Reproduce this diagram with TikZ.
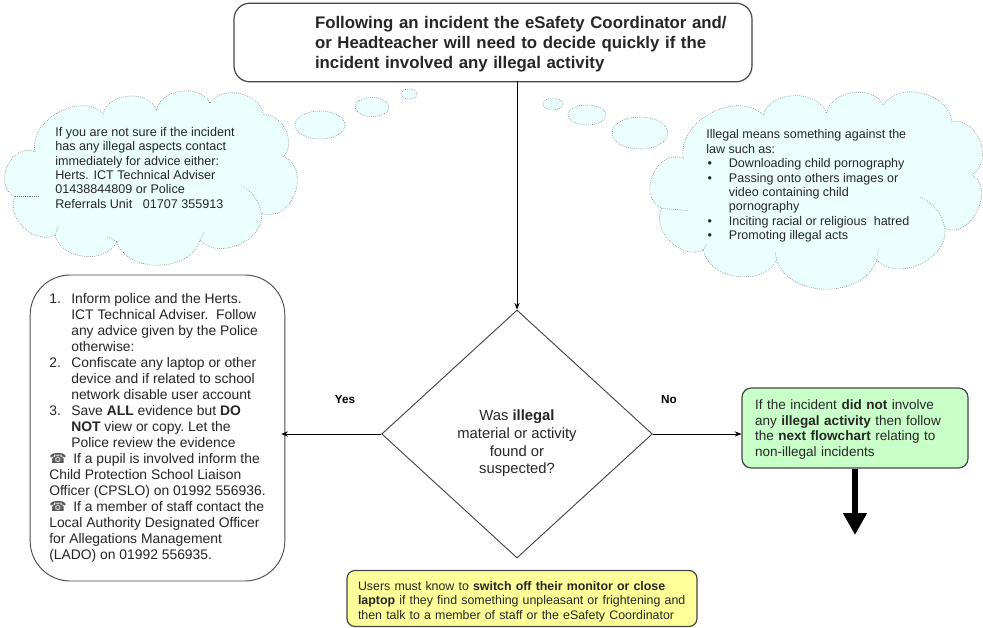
\documentclass[tikz,border=0pt]{standalone}
\usepackage{fontspec}
\setmainfont{Liberation Sans}
\newfontfamily\phonefont{DejaVu Sans}
\usetikzlibrary{shapes.geometric,arrows.meta}
\definecolor{cloudfill}{HTML}{EBFFFF}
\definecolor{greenfill}{HTML}{C9FFC9}
\definecolor{yellowfill}{HTML}{FFFF99}
\definecolor{boxline}{HTML}{454545}
\newcommand{\hangnum}[1]{\makebox[16.5pt][l]{#1}}
\newcommand{\phonemark}{{\phonefont\color{black!65}\char"260E}\hspace{5pt}}
\newcommand{\topindent}{\hspace*{46.5pt}}
\tikzset{
  flowbox/.style={draw=boxline, line width=0.9pt, align=left, inner sep=0pt, text=black!85},
  flowline/.style={draw=black, line width=0.7pt, -{Stealth[length=5pt,width=4pt]}},
  cloudline/.style={draw=black!55, densely dotted, line width=0.45pt},
  lobe/.style={bend left=72, looseness=1.05},
  biglobe/.style={bend left=88, looseness=1.35}
}
\begin{document}
\begin{tikzpicture}[x=0.75pt, y=-0.75pt]
      \useasboundingbox (0,0) rectangle (983,628);
      %
      % left cloud, coordinates read from 3x crop
      \begin{scope}[shift={(0,80)}, scale=1/3]
      \draw[cloudline, fill=cloudfill] (105,215) to[lobe] (310,100) to[lobe] (470,90)
        to[lobe] (630,70) to[lobe] (790,105) to[lobe] (850,230) to[biglobe] (785,400)
        to[lobe] (600,480) to[lobe] (350,485) to[lobe] (165,465) to[lobe] (45,350)
        to[biglobe] (105,215) -- cycle;
      \draw[cloudline] (785,400) to[bend right=25] (720,315);
      \draw[cloudline] (45,350) -- (120,350);
      \draw[cloudline] (165,465) -- (175,440);
      \draw[cloudline] (350,485) -- (322,470);
      \draw[cloudline] (600,480) -- (612,458);
      \end{scope}
      \draw[cloudline, fill=cloudfill] (320,125) ellipse (25 and 14);
      \draw[cloudline, fill=cloudfill] (372,107) ellipse (17 and 9.5);
      \draw[cloudline, fill=cloudfill] (409,94) ellipse (8 and 5);
      %
      % right cloud
      \begin{scope}[shift={(530,80)}, scale=1/3]
      \draw[cloudline, fill=cloudfill] (460,235) to[lobe] (700,105) to[lobe] (890,100)
        to[lobe] (1060,75) to[lobe] (1265,125) to[bend left=80, looseness=1.2] (1325,285)
        to[bend left=90, looseness=1.2] (1245,445)
        to[lobe] (1040,540) to[lobe] (740,540) to[lobe] (520,510) to[lobe] (395,385)
        to[biglobe] (460,235) -- cycle;
      \draw[cloudline] (1245,445) to[bend right=25] (1170,350);
      \draw[cloudline] (395,385) -- (475,392);
      \draw[cloudline] (520,510) -- (530,490);
      \draw[cloudline] (740,540) -- (735,515);
      \draw[cloudline] (1040,540) -- (1045,510);
      \end{scope}
      \draw[cloudline, fill=cloudfill] (640,133) ellipse (28 and 16);
      \draw[cloudline, fill=cloudfill] (587,115) ellipse (19 and 10);
      \draw[cloudline, fill=cloudfill] (553,104) ellipse (10 and 6);
      %
      \node[anchor=north west, align=left, inner sep=0pt, font=\fontsize{9.45pt}{10.8pt}\selectfont, text=black!85] (leftcloud) at (55,127)
        {If you are not sure if the incident\\
         has any illegal aspects contact\\
         immediately for advice either:\\
         Herts. ICT Technical Adviser\\
         01438844809 or Police\\
         Referrals Unit\ \ \ 01707 355913};
      \node[anchor=north west, align=left, inner sep=0pt, font=\fontsize{9.4pt}{10.8pt}\selectfont, text=black!85] (rightcloud) at (706,129.5)
        {Illegal means something against the\\
         law such as:\\
         \makebox[17pt][l]{\hspace{1pt}\textbullet}Downloading child pornography\\
         \makebox[17pt][l]{\hspace{1pt}\textbullet}Passing onto others images or\\
         \makebox[17pt][l]{}video containing child\\
         \makebox[17pt][l]{}pornography\\
         \makebox[17pt][l]{\hspace{1pt}\textbullet}Inciting racial or religious\ \ hatred\\
         \makebox[17pt][l]{\hspace{1pt}\textbullet}Promoting illegal acts};
      %
      \node[flowbox, fill=white, rounded corners=12pt, minimum width=388.5pt, minimum height=59pt, text width=360pt, font=\fontsize{12.6pt}{15pt}\selectfont\bfseries] (topbox) at (493,42.5)
        {\rule{0pt}{12pt}\topindent Following an incident the eSafety Coordinator and/\\
         \topindent or Headteacher will need to decide quickly if the\\
         \topindent incident involved any illegal activity};
      %
      \node[draw=boxline, line width=0.7pt, diamond, aspect=1.09, inner sep=0pt, minimum width=203pt, minimum height=186pt] (decide) at (517,434) {};
      \node[align=center, inner sep=0pt, text=black!85, font=\fontsize{11.1pt}{13.2pt}\selectfont] (decidetext) at (517,443.5)
        {Was \textbf{illegal}\\ material or activity\\ found or\\ suspected?};
      %
      \node[flowbox, draw=black!70, line width=0.7pt, fill=white, rounded corners=30pt, minimum width=191pt, minimum height=229.5pt, font=\fontsize{10.4pt}{12pt}\selectfont] (actions) at (157.5,428)
        {\hangnum{1.}Inform police and the Herts.\\
         \hangnum{}ICT Technical Adviser.\ \ Follow\\
         \hangnum{}any advice given by the Police\\
         \hangnum{}otherwise:\\
         \hangnum{2.}Confiscate any laptop or other\\
         \hangnum{}device and if related to school\\
         \hangnum{}network disable user account\\
         \hangnum{3.}Save \textbf{ALL} evidence but \textbf{DO}\\
         \hangnum{}\textbf{NOT} view or copy.\ Let the\\
         \hangnum{}Police review the evidence\\
         \phonemark If a pupil is involved inform the\\
         Child Protection School Liaison\\
         Officer (CPSLO) on 01992 556936.\\
         \phonemark If a member of staff contact the\\
         Local Authority Designated Officer\\
         for Allegations Management\\
         (LADO) on 01992 556935.};
      %
      \node[flowbox, fill=greenfill, rounded corners=7pt, minimum width=169.5pt, minimum height=60pt, text width=150pt, font=\fontsize{10.15pt}{11.8pt}\selectfont] (nextflow) at (855,428)
        {\rule{0pt}{9.5pt}If the incident \textbf{did not} involve\\
         any \textbf{illegal activity} then follow\\
         the \textbf{next flowchart} relating to\\
         non-illegal incidents};
      %
      \node[flowbox, fill=yellowfill, rounded corners=6pt, minimum width=262.5pt, minimum height=42pt, text width=246pt, font=\fontsize{9.3pt}{10.9pt}\selectfont] (warning) at (522,598.5)
        {\rule{0pt}{11pt}Users must know to \textbf{switch off their monitor or close}\\
         \textbf{laptop} if they find something unpleasant or frightening and\\
         then talk to a member of staff or the eSafety Coordinator};
      %
      \coordinate (nextend) at (855,535);
      \node[font=\fontsize{8.8pt}{10pt}\selectfont\bfseries, inner sep=0pt] (yeslabel) at (345,400) {Yes};
      \node[font=\fontsize{8.8pt}{10pt}\selectfont\bfseries, inner sep=0pt] (nolabel) at (669,400) {No};
      %
      \draw[flowline] (topbox.south -| decide.north) -- (decide.north);
      \draw[flowline, shorten >=-3pt] (decide.west) -- (decide.west -| actions.east);
      \draw[flowline] (decide.east) -- (decide.east -| nextflow.west);
      \draw[line width=4.5pt, -{Triangle[length=16.5pt,width=17pt]}] (nextflow.south) -- (nextend);
\end{tikzpicture}
\end{document}
